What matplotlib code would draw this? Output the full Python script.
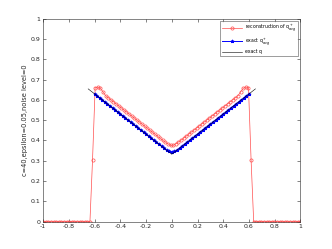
import matplotlib
matplotlib.use("Agg")
import matplotlib.pyplot as plt
from matplotlib.ticker import FormatStrFormatter
import numpy as np

# reconstruction of q+_avg, sampled on 100 points in [-1, 1]
x_rec = np.linspace(-1, 1, 100)
q_rec = [0, 0, 0, 0, 0, 0, 0, 0, 0, 0, 0, 0, 0, 0, 0, 0, 0, 0, 0,
         0.305, 0.660, 0.663, 0.657, 0.640, 0.621, 0.611, 0.601, 0.591,
         0.581, 0.571, 0.561, 0.551, 0.541, 0.531, 0.521, 0.511, 0.501,
         0.491, 0.481, 0.471, 0.461, 0.451, 0.441, 0.431, 0.421, 0.411,
         0.401, 0.392, 0.383, 0.376,
         0.376, 0.383, 0.392, 0.401, 0.411, 0.421, 0.431, 0.441, 0.451,
         0.461, 0.471, 0.481, 0.491, 0.501, 0.511, 0.521, 0.531, 0.541,
         0.551, 0.561, 0.571, 0.581, 0.591, 0.601, 0.611, 0.621, 0.640,
         0.657, 0.663, 0.660, 0.305,
         0, 0, 0, 0, 0, 0, 0, 0, 0, 0, 0, 0, 0, 0, 0, 0, 0, 0, 0]

# exact q+_avg on [-0.6, 0.6]
x_avg = np.linspace(-0.6, 0.6, 61)
q_avg = [0.629, 0.619, 0.609, 0.599, 0.589, 0.580, 0.570, 0.560, 0.550,
         0.540, 0.530, 0.520, 0.510, 0.500, 0.490, 0.481, 0.471, 0.461,
         0.451, 0.441, 0.431, 0.421, 0.411, 0.401, 0.391, 0.382, 0.372,
         0.362, 0.352, 0.347, 0.344, 0.347, 0.352, 0.362, 0.372, 0.382,
         0.391, 0.401, 0.411, 0.421, 0.431, 0.441, 0.451, 0.461, 0.471,
         0.481, 0.490, 0.500, 0.510, 0.520, 0.530, 0.540, 0.550, 0.560,
         0.570, 0.580, 0.589, 0.599, 0.609, 0.619, 0.629]

# exact q
x_q = [-0.65, 0.0, 0.65]
q_exact = [0.654, 0.332, 0.654]

xticks = [-1, -0.8, -0.6, -0.4, -0.2, 0, 0.2, 0.4, 0.6, 0.8, 1]
yticks = [0, 0.1, 0.2, 0.3, 0.4, 0.5, 0.6, 0.7, 0.8, 0.9, 1]

fig = plt.figure(figsize=(3.32, 2.49), dpi=100)
ax = fig.add_axes([0.13, 0.11, 0.775, 0.815])

ax.plot(x_rec, q_rec, '-o', color='#ff4d4d', lw=0.5, ms=2.3, mew=0.5,
        mfc='none', label='reconstruction of q$^+_{avg}$')
ax.plot(x_avg, q_avg, '-*', color='#0000ff', lw=0.7, ms=2.4, mew=0.6,
        label='exact q$^+_{avg}$')
ax.plot(x_q, q_exact, '-', color='k', lw=0.4, label='exact q')

ax.set_xlim(-1, 1)
ax.set_ylim(0, 1)
ax.set_xticks(xticks)
ax.set_yticks(yticks)
ax.xaxis.set_major_formatter(FormatStrFormatter('%g'))
ax.yaxis.set_major_formatter(FormatStrFormatter('%g'))
ax.tick_params(direction='in', length=2, width=0.4, labelsize=4.5,
               colors='#262626', top=True, right=True, pad=2)
for s in ax.spines.values():
    s.set_linewidth(0.4)
    s.set_color('#262626')

ax.set_ylabel('c=40,epsilon=0.05,noise level=0', fontsize=4.8,
              color='#262626', labelpad=2)

leg = ax.legend(loc='upper right', fontsize=3.3, handlelength=4.5,
                frameon=True, fancybox=False, borderpad=0.3,
                labelspacing=0.4, handletextpad=0.6,
                borderaxespad=0.5)
leg.get_frame().set_linewidth(0.4)
leg.get_frame().set_edgecolor('#262626')

fig.savefig('out.png', dpi=100)
